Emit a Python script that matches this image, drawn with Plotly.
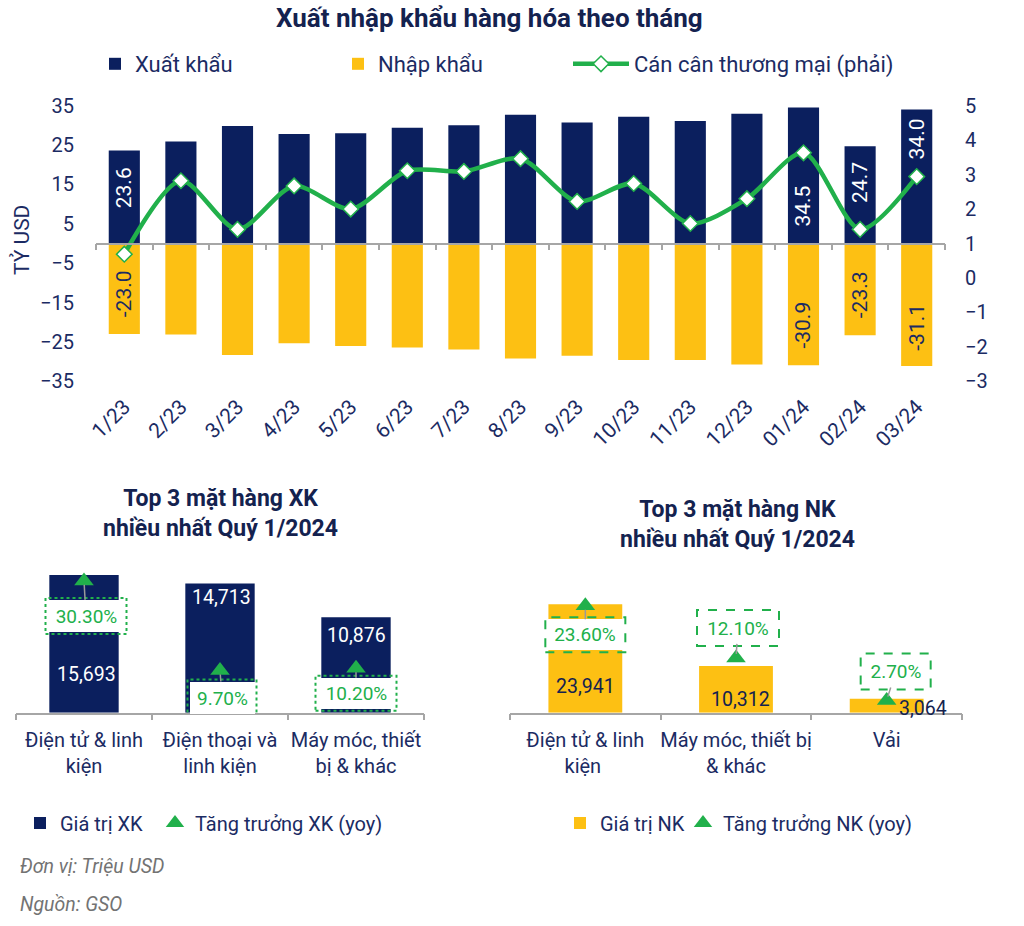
import plotly.graph_objects as go

# ---------------- DATA ----------------
months = ["1/23", "2/23", "3/23", "4/23", "5/23", "6/23", "7/23", "8/23",
          "9/23", "10/23", "11/23", "12/23", "01/24", "02/24", "03/24"]
exports = [23.6, 25.9, 29.8, 27.8, 28.0, 29.4, 30.0, 32.7, 30.7, 32.2, 31.1, 32.9, 34.5, 24.7, 34.0]
imports = [-23.0, -23.1, -28.3, -25.3, -26.0, -26.4, -26.9, -29.2, -28.5, -29.6, -29.6, -30.7, -30.9, -23.3, -31.1]
balance = [0.69, 2.82, 1.41, 2.67, 2.0, 3.11, 3.09, 3.46, 2.22, 2.74, 1.58, 2.30, 3.63, 1.41, 2.94]
left_ticks = [-35, -25, -15, -5, 5, 15, 25, 35]
right_ticks = [-3, -2, -1, 0, 1, 2, 3, 4, 5]
labeled_months = [0, 12, 13, 14]

xk_items = ["Điện tử & linh<br>kiện", "Điện thoại và<br>linh kiện", "Máy móc, thiết<br>bị & khác"]
xk_values = [15693, 14713, 10876]
xk_growth = [30.3, 9.7, 10.2]
nk_items = ["Điện tử & linh<br>kiện ", "Máy móc, thiết bị<br>& khác", "Vải"]
nk_values = [23941, 10312, 3064]
nk_growth = [23.6, 12.1, 2.7]

# ---------------- STYLE ----------------
NAVY = "#0b1f5e"
TXT = "#1b2b63"
TITLE = "#14224f"
YEL = "#fdc013"
GRN = "#21b04b"
AXC = "#a6a6a6"
FONT = "Roboto"
W, H = 1024, 926


def px(x):
    return x / W


def py(y):
    return 1 - y / H


# label placement (styling, in data units / pixel offsets)
exp_label_pos = [14.1, 9.5, 15.4, 26.6]
imp_label_pos = [-12.8, -20.7, -13.1, -21.2]
xk_val_shift = [(2, -100), (1, -14), (0, -18)]
nk_val_shift = [(0, -82), (4, -34), (36, -10)]
xk_box = [(2, 35, 81, 36), (2, 27, 69, 36), (0, 25, 81, 35)]
nk_box = [(0, 29, 80, 35), (2, -30, 82, 36), (9, -29, 70, 36)]

fig = go.Figure()

# ---------------- TOP CHART ----------------
fig.add_trace(go.Bar(x=months, y=exports, name="Xuất khẩu", marker_color=NAVY,
                     marker_line_width=0, width=0.55, xaxis="x", yaxis="y", legend="legend"))
fig.add_trace(go.Bar(x=months, y=imports, name="Nhập khẩu", marker_color=YEL,
                     marker_line_width=0, width=0.55, xaxis="x", yaxis="y", legend="legend2"))
fig.add_trace(go.Scatter(x=months, y=balance, name="Cán cân thương mại (phải)",
                         mode="lines+markers", line=dict(color=GRN, width=4.5, shape="spline", smoothing=0.8),
                         marker=dict(symbol="diamond", size=12, color="white", line=dict(color=GRN, width=1.5)),
                         xaxis="x2", yaxis="y2", legend="legend3"))

# ---------------- BOTTOM LEFT ----------------
fig.add_trace(go.Bar(x=xk_items, y=xk_values, name="Giá trị XK", marker_color=NAVY,
                     marker_line_width=0, width=0.51, xaxis="x3", yaxis="y3", legend="legend4"))
fig.add_trace(go.Scatter(x=xk_items, y=xk_growth, name="Tăng trưởng XK (yoy)", mode="markers",
                         marker=dict(symbol="triangle-up", size=17, color=GRN),
                         xaxis="x3", yaxis="y4", legend="legend5"))

# ---------------- BOTTOM RIGHT ----------------
fig.add_trace(go.Bar(x=nk_items, y=nk_values, name="Giá trị NK", marker_color=YEL,
                     marker_line_width=0, width=0.49, xaxis="x4", yaxis="y5", legend="legend6"))
fig.add_trace(go.Scatter(x=nk_items, y=nk_growth, name="Tăng trưởng NK (yoy)", mode="markers",
                         marker=dict(symbol="triangle-up", size=17, color=GRN),
                         xaxis="x4", yaxis="y6", legend="legend7"))

for tr in fig.data:
    tr.showlegend = True

top_dom_x = [px(96), px(945)]
top_dom_y = [py(381.4), py(105.6)]
bl_dom_x = [px(16), px(424)]
br_dom_x = [px(510), px(962)]
bot_base = 712.7
bl_h = 158.0
br_h = 136.0

tickfont = dict(family=FONT, size=20, color=TXT)
catfont = dict(family=FONT, size=20, color=TXT)


def leg(x, y, size, itemwidth=30):
    return dict(orientation="h", x=px(x), y=py(y), yanchor="middle", xanchor="left",
                font=dict(family=FONT, size=size, color=TXT), itemwidth=itemwidth,
                bgcolor="rgba(0,0,0,0)", borderwidth=0, visible=True)


fig.update_layout(
    width=W, height=H, margin=dict(l=0, r=0, t=0, b=0, autoexpand=False),
    paper_bgcolor="white", plot_bgcolor="rgba(0,0,0,0)", showlegend=True,
    barmode="relative", font=dict(family=FONT, color=TXT),
    xaxis=dict(domain=top_dom_x, anchor="y", type="category", range=[-0.5, 14.5],
               showline=False, ticks="", showgrid=False, tickangle=-45,
               tickfont=dict(family=FONT, size=21, color=TXT), ticklabelstandoff=8),
    xaxis2=dict(overlaying="x", type="category", range=[-0.5, 14.5], anchor="free",
                position=py(243.5), showline=True, linecolor=AXC, linewidth=1.5,
                ticks="outside", ticklen=6, tickcolor=AXC, tickwidth=1.5, tickson="boundaries",
                showticklabels=False, showgrid=False),
    yaxis=dict(domain=top_dom_y, anchor="x", range=[-35, 35], tickvals=left_ticks,
               showgrid=False, zeroline=False, showline=False, ticks="", tickfont=tickfont,
               ticklabelstandoff=21),
    yaxis2=dict(overlaying="y", side="right", anchor="x", range=[-3, 5], tickvals=right_ticks,
                showgrid=False, zeroline=False, showline=False, ticks="", tickfont=tickfont,
                ticklabelstandoff=19),
    xaxis3=dict(domain=bl_dom_x, anchor="y3", type="category", range=[-0.5, 2.5],
                showline=True, linecolor=AXC, linewidth=1.5, ticks="outside", ticklen=6,
                tickcolor=AXC, tickwidth=1.5, tickson="boundaries", showgrid=False,
                tickangle=0, tickfont=catfont, ticklabelstandoff=9),
    yaxis3=dict(domain=[py(bot_base), py(bot_base - bl_h)], anchor="x3", range=[0, 18000],
                visible=False, showgrid=False),
    yaxis4=dict(overlaying="y3", anchor="x3", range=[0, bl_h / 4.35], visible=False, showgrid=False),
    xaxis4=dict(domain=br_dom_x, anchor="y5", type="category", range=[-0.5, 2.5],
                showline=True, linecolor=AXC, linewidth=1.5, ticks="outside", ticklen=6,
                tickcolor=AXC, tickwidth=1.5, tickson="boundaries", showgrid=False,
                tickangle=0, tickfont=catfont, ticklabelstandoff=9),
    yaxis5=dict(domain=[py(bot_base), py(bot_base - br_h)], anchor="x4", range=[0, br_h / 0.00453],
                visible=False, showgrid=False),
    yaxis6=dict(overlaying="y5", anchor="x4", range=[0, br_h / 4.53], visible=False, showgrid=False),
    legend=leg(95, 64, 22),
    legend2=leg(338, 64, 22),
    legend3=leg(568, 64, 22, itemwidth=56),
    legend4=leg(20, 823, 20),
    legend5=leg(155, 823, 20),
    legend6=leg(560, 823, 20),
    legend7=leg(683, 823, 20),
)

ann = []


def note(text, x, y, size, color, **kw):
    d = dict(text=text, x=px(x), y=py(y), xref="paper", yref="paper", showarrow=False,
             xanchor="center", yanchor="middle", font=dict(family=FONT, size=size, color=color))
    d.update(kw)
    ann.append(d)


note("<b>Xuất nhập khẩu hàng hóa theo tháng</b>", 489, 18, 26, TITLE)
note("TỶ USD", 22, 240, 21, TXT, textangle=-90)
note("<b>Top 3 mặt hàng XK<br>nhiều nhất Quý 1/2024</b>", 220, 513, 23, TITLE, align="center")
note("<b>Top 3 mặt hàng NK<br>nhiều nhất Quý 1/2024</b>", 737, 524, 23, TITLE, align="center")
note("<i>Đơn vị: Triệu USD</i>", 18, 866, 19.5, "#737373", xanchor="left")
note("<i>Nguồn: GSO</i>", 18, 904, 19.5, "#737373", xanchor="left")

# top chart value labels
for k, i in enumerate(labeled_months):
    ann.append(dict(text=f"{exports[i]:.1f}", x=months[i], y=exp_label_pos[k], xref="x", yref="y",
                    showarrow=False, textangle=-90, xanchor="center", yanchor="middle",
                    font=dict(family=FONT, size=21, color="white")))
    ann.append(dict(text=f"{imports[i]:.1f}", x=months[i], y=imp_label_pos[k], xref="x", yref="y",
                    showarrow=False, textangle=-90, xanchor="center", yanchor="middle",
                    font=dict(family=FONT, size=21, color=TXT)))

shapes = []


def growth_labels(items, growth, boxes, xref, yref, dash):
    for i, g in enumerate(growth):
        dx, dy, w, h = boxes[i]
        ann.append(dict(text=f"{g:.2f}%", x=items[i], y=g, xref=xref, yref=yref,
                        showarrow=True, arrowhead=0, arrowwidth=1.5, arrowcolor="#9a9a9a",
                        ax=dx, ay=dy, standoff=4, bgcolor="white", width=w - 4, height=h - 4,
                        borderpad=0, borderwidth=0,
                        font=dict(family=FONT, size=19, color=GRN)))
        shapes.append(dict(type="rect", xref=xref, yref=yref, xsizemode="pixel", ysizemode="pixel",
                           xanchor=i, yanchor=g, x0=dx - w / 2, x1=dx + w / 2,
                           y0=-dy - h / 2, y1=-dy + h / 2,
                           line=dict(color=GRN, width=2, dash=dash), fillcolor="rgba(0,0,0,0)",
                           layer="above"))


def value_labels(items, values, shifts, xref, yref, color):
    for i, v in enumerate(values):
        sx, sy = shifts[i]
        ann.append(dict(text=f"{v:,}", x=items[i], y=v, xref=xref, yref=yref, showarrow=False,
                        xanchor="center", yanchor="middle",
                        xshift=sx, yshift=sy, font=dict(family=FONT, size=19.5, color=color)))


value_labels(xk_items, xk_values, xk_val_shift, "x3", "y3", "white")
value_labels(nk_items, nk_values, nk_val_shift, "x4", "y5", TITLE)
growth_labels(xk_items, xk_growth, xk_box, "x3", "y4", "dot")
growth_labels(nk_items, nk_growth, nk_box, "x4", "y6", "dash")

fig.update_layout(annotations=ann, shapes=shapes)

fig.write_html("out.html", config={"displayModeBar": False},
               post_script="document.body.style.margin='0';")
